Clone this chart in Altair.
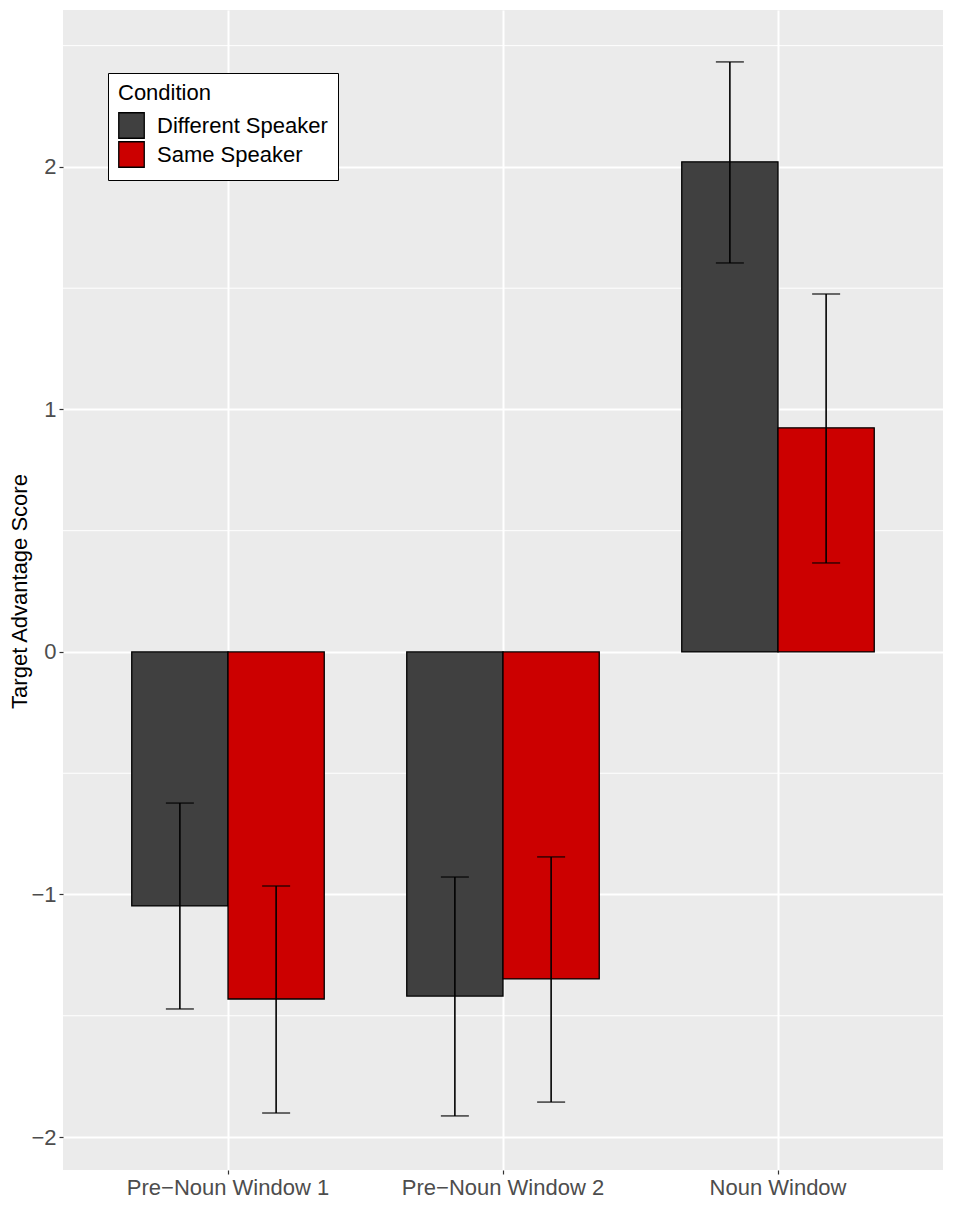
import altair as alt
import pandas as pd

windows = ["Pre−Noun Window 1", "Pre−Noun Window 2", "Noun Window"]
conditions = ["Different Speaker", "Same Speaker"]

mean_diff = [-1.047, -1.419, 2.021]
lo_diff = [-1.472, -1.913, 1.604]
hi_diff = [-0.623, -0.928, 2.433]

mean_same = [-1.431, -1.348, 0.924]
lo_same = [-1.901, -1.856, 0.367]
hi_same = [-0.965, -0.845, 1.476]

major_breaks = [-2, -1, 0, 1, 2]
minor_breaks = [-1.5, -0.5, 0.5, 1.5, 2.5]

rows = []
for i, w in enumerate(windows):
    rows.append({"window": w, "condition": conditions[0], "mean": mean_diff[i], "lo": lo_diff[i], "hi": hi_diff[i]})
    rows.append({"window": w, "condition": conditions[1], "mean": mean_same[i], "lo": lo_same[i], "hi": hi_same[i]})
df = pd.DataFrame(rows)
minor_df = pd.DataFrame({"v": minor_breaks})

FONT_SIZE = 22

yscale = alt.Scale(domain=[-2.136, 2.647], nice=False, zero=False)

x_enc = alt.X(
    "window:N",
    sort=windows,
    scale=alt.Scale(paddingInner=0.3, paddingOuter=0.25),
    axis=alt.Axis(
        title=None,
        labelAngle=0,
        labelLimit=0,
        grid=True,
        gridColor="white",
        gridWidth=2,
        bandPosition=0.5,
        domain=False,
        ticks=True,
        tickColor="#333333",
        tickSize=4,
        tickWidth=1.2,
        labelColor="#4D4D4D",
        labelFontSize=FONT_SIZE,
        labelPadding=3,
    ),
)
xoff = alt.XOffset("condition:N", sort=conditions, scale=alt.Scale(paddingInner=0, paddingOuter=0))

y_axis = alt.Axis(
    values=major_breaks,
    format="d",
    title="Target Advantage Score",
    titleFontSize=22,
    titleFontWeight="normal",
    titleColor="black",
    titleX=-37,
    titleY=581,
    titleAngle=270,
    titleAlign="center",
    titleBaseline="alphabetic",
    grid=True,
    gridColor="white",
    gridWidth=2,
    domain=False,
    tickColor="#333333",
    tickSize=4,
    tickWidth=1.2,
    labelColor="#4D4D4D",
    labelFontSize=FONT_SIZE,
    labelPadding=3,
)

minor = alt.Chart(minor_df).mark_rule(color="white", strokeWidth=1).encode(
    y=alt.Y("v:Q", scale=yscale, axis=y_axis)
)

base = alt.Chart(df)

bars = base.mark_bar(stroke="black", strokeWidth=1.3).encode(
    x=x_enc,
    xOffset=xoff,
    y=alt.Y("mean:Q", scale=yscale, axis=y_axis),
    y2=alt.datum(0),
    color=alt.Color(
        "condition:N",
        sort=conditions,
        scale=alt.Scale(domain=conditions, range=["#404040", "#CC0000"]),
        legend=alt.Legend(
            title="Condition",
            orient="none",
            legendX=45,
            legendY=63,
            fillColor="white",
            strokeColor="black",
            padding=10,
            symbolType="square",
            symbolSize=650,
            symbolStrokeColor="black",
            symbolStrokeWidth=1.3,
            symbolOpacity=1,
            titleFontSize=FONT_SIZE,
            titleFontWeight="normal",
            titleColor="black",
            titlePadding=7,
            labelFontSize=FONT_SIZE,
            labelColor="black",
            labelLimit=0,
            labelOffset=12,
            rowPadding=-3,
        ),
    ),
)

err = base.mark_rule(color="black", strokeWidth=1.6).encode(
    x=x_enc, xOffset=xoff, y=alt.Y("lo:Q", scale=yscale), y2="hi:Q"
)
cap_lo = base.mark_tick(color="black", thickness=1.6, size=28).encode(
    x=x_enc, xOffset=xoff, y=alt.Y("lo:Q", scale=yscale)
)
cap_hi = base.mark_tick(color="black", thickness=1.6, size=28).encode(
    x=x_enc, xOffset=xoff, y=alt.Y("hi:Q", scale=yscale)
)

chart = (
    alt.layer(minor, bars, err, cap_lo, cap_hi)
    .properties(
        width=880,
        height=1160,
        autosize=alt.AutoSizeParams(type="none"),
        padding={"left": 55, "top": 2, "right": 2, "bottom": 50},
    )
    .configure(font="Liberation Sans")
    .configure_view(fill="#EBEBEB", strokeWidth=0)
)

chart.save("out.html", embed_options={"renderer": "svg", "actions": False})
